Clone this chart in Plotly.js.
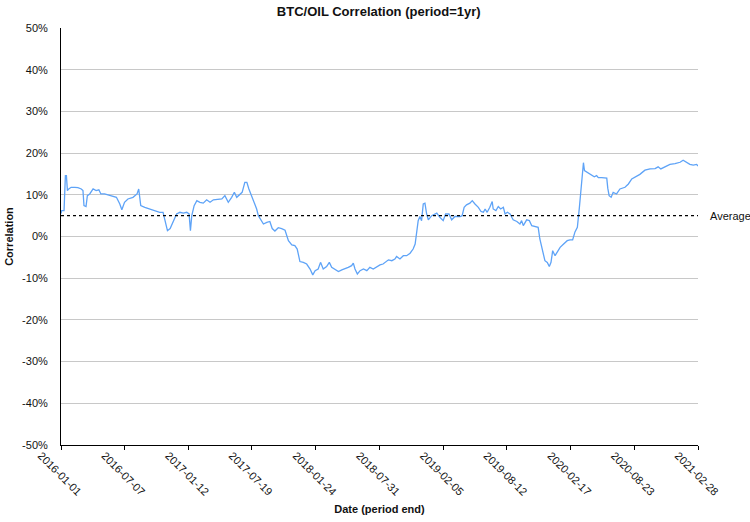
<!DOCTYPE html>
<html>
<head>
<meta charset="utf-8">
<script src="https://cdn.plot.ly/plotly-3.0.1.min.js"></script>
<style>html,body{margin:0;padding:0;background:#fff;}#chart{width:750px;height:522px;}</style>
</head>
<body>
<div id="chart"></div>
<script>
const dates = [
"2016-01-01","2016-01-03","2016-01-10","2016-01-14","2016-01-17","2016-01-20","2016-01-24","2016-01-31","2016-02-11","2016-02-20",
"2016-03-01","2016-03-06","2016-03-09","2016-03-15","2016-03-19","2016-03-26","2016-04-05","2016-04-14","2016-04-22","2016-04-28",
"2016-05-09","2016-05-29","2016-06-13","2016-06-23","2016-06-29","2016-07-07","2016-07-17","2016-08-01","2016-08-13","2016-08-18",
"2016-08-20","2016-08-24","2016-09-05","2016-09-19","2016-10-04","2016-10-19","2016-10-29","2016-11-03","2016-11-11","2016-11-19",
"2016-11-28","2016-12-08","2016-12-18","2016-12-28","2017-01-07","2017-01-14","2017-01-18","2017-01-22","2017-01-29","2017-02-06",
"2017-02-15","2017-02-25","2017-03-07","2017-03-17","2017-03-27","2017-04-10","2017-04-21","2017-04-30","2017-05-10","2017-05-20",
"2017-05-28","2017-06-04","2017-06-14","2017-06-20","2017-06-28","2017-07-04","2017-07-10","2017-07-18","2017-07-26","2017-08-02",
"2017-08-07","2017-08-15","2017-08-22","2017-09-01","2017-09-10","2017-09-17","2017-09-25","2017-10-05","2017-10-15","2017-10-25",
"2017-11-04","2017-11-14","2017-11-23","2017-11-30","2017-12-08","2017-12-18","2017-12-28","2018-01-07","2018-01-15","2018-01-22",
"2018-01-31","2018-02-07","2018-02-15","2018-02-25","2018-03-05","2018-03-12","2018-03-22","2018-04-01","2018-04-11","2018-04-20",
"2018-04-30","2018-05-10","2018-05-15","2018-05-20","2018-05-27","2018-06-04","2018-06-14","2018-06-24","2018-07-03","2018-07-13",
"2018-07-23","2018-08-02","2018-08-11","2018-08-17","2018-08-27","2018-09-06","2018-09-15","2018-09-20","2018-09-30","2018-10-10",
"2018-10-20","2018-10-30","2018-11-08","2018-11-14","2018-11-19","2018-11-23","2018-11-28","2018-12-03","2018-12-08","2018-12-13",
"2018-12-18","2018-12-23","2019-01-02","2019-01-12","2019-01-17","2019-01-26","2019-02-05","2019-02-12","2019-02-22","2019-03-02",
"2019-03-12","2019-03-27","2019-04-02","2019-04-08","2019-04-15","2019-04-25","2019-05-02","2019-05-10","2019-05-20","2019-05-28",
"2019-06-04","2019-06-09","2019-06-15","2019-06-23","2019-06-30","2019-07-03","2019-07-11","2019-07-18","2019-07-25","2019-08-02",
"2019-08-07","2019-08-14","2019-08-22","2019-08-27","2019-08-31","2019-09-11","2019-09-20","2019-09-25","2019-09-30","2019-10-10",
"2019-10-18","2019-10-25","2019-11-04","2019-11-13","2019-11-18","2019-11-23","2019-11-28","2019-12-03","2019-12-10","2019-12-16",
"2019-12-21","2019-12-26","2020-01-02","2020-01-09","2020-01-17","2020-01-25","2020-01-31","2020-02-07","2020-02-15","2020-02-23",
"2020-03-01","2020-03-08","2020-03-14","2020-03-19","2020-03-23","2020-03-26","2020-03-29","2020-03-31","2020-04-09","2020-04-19",
"2020-04-27","2020-05-04","2020-05-09","2020-05-19","2020-05-29","2020-06-03","2020-06-06","2020-06-10","2020-06-16","2020-06-22",
"2020-07-02","2020-07-12","2020-07-27","2020-08-06","2020-08-16","2020-08-26","2020-09-09","2020-09-24","2020-10-09","2020-10-24",
"2020-11-02","2020-11-10","2020-11-22","2020-12-07","2020-12-22","2021-01-06","2021-01-15","2021-01-25","2021-02-04","2021-02-14",
"2021-02-24","2021-02-28"
];
const correlation = [
5.5,6.2,6.2,14.6,14.6,11.0,11.4,11.8,11.8,11.7,
11.4,11.0,7.4,7.2,9.8,10.2,11.4,11.0,11.2,10.2,
10.2,9.8,9.4,7.8,6.4,8.2,9.0,9.4,10.2,11.4,
10.2,7.4,7.0,6.6,6.2,5.8,5.8,3.8,1.4,1.9,
3.4,5.4,5.8,5.6,5.8,5.4,1.4,5.0,7.4,8.6,
8.2,8.0,8.8,8.2,8.8,9.0,9.0,9.8,8.2,9.4,
10.6,9.4,10.2,10.6,13.0,13.0,11.4,9.8,8.2,6.6,
5.0,3.8,3.0,3.4,3.6,1.9,1.3,2.1,1.9,1.5,
-1.0,-2.0,-2.2,-3.0,-6.0,-6.2,-6.6,-7.8,-9.2,-8.2,
-7.8,-6.2,-7.8,-7.2,-6.2,-7.4,-8.0,-8.4,-8.0,-7.8,
-7.4,-7.0,-6.4,-7.8,-9.0,-8.2,-7.8,-8.2,-7.4,-7.8,
-7.2,-6.8,-6.6,-6.2,-5.6,-5.8,-5.4,-4.8,-5.4,-4.6,
-4.6,-4.0,-3.0,-1.8,1.4,3.8,4.8,3.8,7.8,8.0,
5.4,4.0,5.0,5.4,5.6,4.6,3.8,5.4,5.4,4.0,
4.8,4.8,5.0,7.0,7.6,8.0,8.6,7.8,7.0,6.0,
5.8,6.6,5.8,7.0,8.4,6.6,6.2,7.2,6.6,7.0,
5.4,5.8,5.4,4.6,4.0,3.6,3.0,3.8,2.6,4.0,
3.8,2.6,2.4,2.2,-0.6,-2.6,-4.6,-5.8,-6.2,-7.2,
-6.2,-3.4,-4.6,-3.8,-2.6,-2.0,-1.6,-1.0,-0.8,-0.8,
1.1,2.2,7.0,11.0,15.5,17.7,15.8,15.7,15.4,14.9,
14.3,14.6,14.1,14.1,14.0,14.0,11.6,9.8,9.4,10.6,
10.2,11.4,11.8,12.6,13.8,14.3,14.9,15.9,16.2,16.3,
16.7,16.2,16.7,17.3,17.5,17.8,18.3,17.9,17.3,17.1,
17.3,16.9
];
const average = 5.0;
const averageLabel = "Average";
const tickDates = ["2016-01-01","2016-07-07","2017-01-12","2017-07-19","2018-01-24","2018-07-31","2019-02-05","2019-08-12","2020-02-17","2020-08-23","2021-02-28"];
const yTicks = [-50,-40,-30,-20,-10,0,10,20,30,40,50];

const font = "Liberation Sans, Arial, Helvetica, sans-serif";
const traces = [
  {
    x: dates, y: correlation, type: "scatter", mode: "lines",
    line: {color: "#5ea3f7", width: 1.3}, hoverinfo: "skip", showlegend: false
  },
  {
    x: [tickDates[0], tickDates[tickDates.length - 1]], y: [average, average],
    type: "scatter", mode: "lines",
    line: {color: "#000", width: 1.2, dash: "dot"}, hoverinfo: "skip", showlegend: false
  }
];
const layout = {
  width: 750, height: 522,
  margin: {l: 61, r: 52, t: 28, b: 77},
  paper_bgcolor: "#fff", plot_bgcolor: "#fff",
  font: {family: font, size: 11, color: "#111"},
  title: {text: "<b>BTC/OIL Correlation (period=1yr)</b>", font: {family: font, size: 13, color: "#111"}, x: 0.505, xanchor: "center", y: 0.978, yanchor: "middle"},
  xaxis: {
    type: "date",
    range: [tickDates[0], tickDates[tickDates.length - 1]],
    tickmode: "array", tickvals: tickDates, ticktext: tickDates,
    tickangle: 45, ticks: "outside", ticklen: 4, tickcolor: "#000",
    ticklabelshift: -20, ticklabelstandoff: -5,
    showgrid: false, zeroline: false,
    showline: true, linecolor: "#000", linewidth: 1,
    tickfont: {family: font, size: 11, color: "#111"},
    title: {text: "<b>Date (period end)</b>", font: {family: font, size: 11, color: "#111"}, standoff: 8}
  },
  yaxis: {
    range: [-50, 50], tickmode: "array", tickvals: yTicks,
    ticktext: yTicks.map(v => v + "%"),
    showgrid: true, gridcolor: "#c8c8c8", gridwidth: 1,
    zeroline: false, showline: true, linecolor: "#000", linewidth: 1,
    ticks: "", ticklabelstandoff: 10, tickfont: {family: font, size: 11, color: "#111"},
    title: {text: "<b>Correlation</b>", font: {family: font, size: 11, color: "#111"}, standoff: 6}
  },
  annotations: [
    {text: averageLabel, xref: "paper", yref: "y", x: 1, y: average, xanchor: "left", yanchor: "middle", xshift: 10, showarrow: false, font: {family: font, size: 11, color: "#111"}}
  ]
};
Plotly.newPlot("chart", traces, layout, {displayModeBar: false, staticPlot: true});
</script>
</body>
</html>
